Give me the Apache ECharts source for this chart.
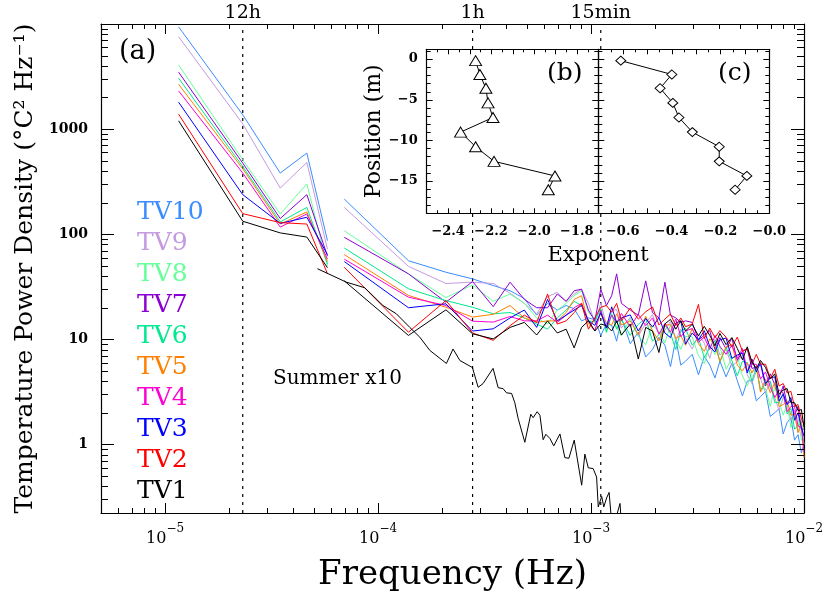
<!DOCTYPE html>
<html>
<head>
<meta charset="utf-8">
<script src="https://cdn.jsdelivr.net/npm/echarts@6/dist/echarts.min.js"></script>
<style>html,body{margin:0;padding:0;background:#fff}#chart{width:829px;height:599px}</style>
</head>
<body>
<div id="chart"></div>
<script>
const SERIF = 'DejaVu Serif, serif';

// daily harmonics (first piece of every spectrum)
const dailyHz = [1.157e-5, 2.315e-5, 3.472e-5, 4.630e-5, 5.787e-5];
// 4-hour window bins (second piece)
const binHz = [0.694e-4, 1.389e-4, 2.083e-4, 2.778e-4, 3.472e-4, 4.167e-4, 4.861e-4, 5.556e-4, 6.250e-4, 6.944e-4, 7.639e-4, 8.333e-4, 9.028e-4, 9.722e-4,
  1.042e-3, 1.111e-3, 1.181e-3, 1.250e-3, 1.319e-3, 1.389e-3,
  1.528e-3, 1.667e-3, 1.806e-3, 1.944e-3, 2.083e-3, 2.222e-3, 2.361e-3, 2.500e-3, 2.639e-3, 2.778e-3,
  2.986e-3, 3.194e-3, 3.403e-3, 3.611e-3, 3.819e-3, 4.028e-3,
  4.306e-3, 4.583e-3, 4.861e-3, 5.139e-3, 5.417e-3, 5.694e-3, 5.972e-3, 6.250e-3,
  6.597e-3, 6.944e-3, 7.292e-3, 7.639e-3, 7.986e-3, 8.333e-3,
  8.681e-3, 9.028e-3, 9.375e-3, 9.722e-3, 1.000e-2];

const tv10Day = [9400, 1367, 382, 592, 87];
const tv9Day = [7570, 1122, 275, 482, 72];
const tv8Day = [4080, 511, 156, 301, 50];
const tv7Day = [3480, 475, 141, 238, 62];
const tv6Day = [3050, 441, 131, 180, 52];
const tv5Day = [2670, 420, 125, 163, 55];
const tv4Day = [2310, 382, 117, 156, 58];
const tv3Day = [1805, 238, 127, 145, 64];
const tv2Day = [1387, 157, 129, 125, 42];
const tv1Day = [1200, 133, 103, 94, 48];

const tv10Bin = [216, 56, 43.5, 37.6, 32.5, 29, 24.5, 17, 22, 19, 21, 19.5, 15, 16,
  15.4, 10.9, 14.1, 13.6, 9.6, 16,
  9.1, 11.7, 6.8, 8.0, 10.5, 8.8, 5.5, 10.1, 5.7, 6.2,
  7.2, 4.6, 6.9, 5.7, 4.3, 6.2,
  4.4, 5.9, 4.05, 2.9, 4.0, 4.1, 2.6, 2.85,
  3.2, 1.85, 2.0, 2.2, 1.26, 1.62,
  1.8, 1.1, 1.24, 0.83, 1.02];
const tv9Bin = [180, 49.5, 34, 35, 34, 27.5, 22, 17.5, 25.5, 28, 23, 27, 30, 22,
  14.4, 22.1, 13.6, 18.7, 19.2, 12.8,
  16.2, 10.7, 14.3, 17.2, 11.3, 12.2, 14.8, 9.9, 12.5, 10.3,
  8.1, 11.1, 9.2, 6.6, 10.0, 7.1,
  8.0, 5.6, 6.1, 7.1, 4.6, 3.8, 5.0, 4.25,
  3.1, 4.0, 2.8, 2.1, 2.8, 2.4,
  1.7, 2.1, 1.3, 1.45, 1.4];
const tv8Bin = [108, 42, 25, 33, 23, 27, 22, 16, 14, 19, 22, 26, 29, 18,
  15.8, 18.4, 11.5, 17.6, 13.0, 10.8,
  15.8, 10.8, 8.9, 13.6, 11.9, 9.2, 13.8, 9.9, 8.0, 10.7,
  10.6, 7.0, 5.9, 8.8, 7.2, 8.6,
  5.2, 6.6, 6.9, 4.5, 3.6, 5.0, 5.2, 3.4,
  3.4, 2.3, 3.55, 2.6, 1.9, 2.4,
  1.45, 1.75, 1.8, 1.1, 1.1];
const tv7Bin = [93.5, 42, 22.6, 35.5, 20.5, 35, 24, 20, 20, 27, 23, 29, 30, 19,
  15, 30, 21, 26, 42, 22,
  19, 17, 36, 18, 16, 35, 17, 16, 14.5, 15,
  14.5, 9.8, 11.0, 12.1, 8.0, 10.4,
  8.1, 10.3, 6.3, 7.7, 8.1, 5.3, 5.4, 5.8,
  3.6, 4.7, 3.7, 2.8, 3.6, 2.4,
  2.6, 1.9, 2.3, 1.4, 1.4];
const tv6Bin = [74, 30.3, 23.4, 20.2, 17.5, 18, 16, 14, 12.5, 16, 19, 23, 21, 15,
  14.7, 19.6, 11.8, 17.2, 12.5, 15.5,
  10.9, 13.9, 15.8, 9.6, 11.1, 13.7, 11.4, 8.0, 12.1, 12.7,
  8.8, 10.3, 6.7, 8.5, 9.7, 6.1,
  8.4, 6.3, 4.5, 6.2, 6.0, 4.0, 5.5, 3.2,
  3.8, 4.0, 2.5, 2.5, 3.1, 1.95,
  2.2, 1.4, 1.5, 1.65, 1.0];
const tv5Bin = [64, 26.2, 20.2, 16.3, 17.3, 21, 16, 14.5, 15, 15, 18, 24, 26, 14,
  12.2, 17.8, 14.4, 13.7, 17.5, 13.7,
  15.0, 11.0, 16.6, 12.0, 9.7, 13.7, 13.8, 10.2, 10.9, 8.8,
  12.7, 9.1, 7.7, 10.1, 8.7, 6.2,
  8.5, 8.9, 5.7, 5.0, 6.0, 4.8, 5.6, 3.15,
  4.2, 3.1, 3.9, 2.3, 2.4, 2.6,
  1.9, 1.95, 1.3, 1.65, 0.75];
const tv4Bin = [58, 25.2, 21, 14.9, 14.6, 16.5, 15, 15, 17, 14.5, 17, 20, 22, 15,
  12, 18.7, 12.8, 17, 14.4, 17.6,
  13.2, 17.3, 13.5, 16.0, 11.2, 14.2, 11.7, 15.6, 10.6, 12,
  12.7, 9.4, 10.5, 8.0, 10.9, 8.6,
  7.2, 8.8, 6.6, 8.2, 5.0, 5.8, 5.8, 4.2,
  4.9, 3.5, 2.8, 3.3, 3.1, 2.05,
  2.3, 2.3, 1.5, 1.45, 0.85];
const tv3Bin = [55, 20, 21.8, 12, 12.6, 16, 19, 13, 24, 15, 17, 19, 21, 15,
  13.6, 17.9, 12.8, 20.4, 14.4, 16,
  17.1, 12, 15.8, 13.1, 16.1, 11.5, 10.4, 14.3, 15, 9,
  11.5, 9.9, 12.1, 8.5, 7.6, 9.9,
  10.3, 6.6, 7.1, 7.4, 4.8, 6.5, 4.9, 6,
  3.8, 4.3, 4.4, 2.6, 3.0, 2.4,
  2.8, 1.7, 2.0, 1.45, 1.2];
const tv2Bin = [48.5, 11.7, 23.4, 11.5, 9.8, 13.5, 17, 14.5, 27, 14, 15, 18, 22, 12.5,
  16, 20.2, 21, 18.1, 22, 15,
  19.9, 15.6, 18.3, 20.3, 13.7, 15.6, 17.4, 13.5, 16, 13.2,
  14, 21.5, 10.2, 12.8, 10.4, 12.1,
  10.5, 8.5, 10.5, 7.7, 8.2, 5.8, 7.2, 5.8,
  5.8, 4.25, 5.2, 3.6, 3.8, 3.1,
  3.2, 2.3, 2.4, 1.75, 1.55];
const tv1Bin = [36, 10.9, 19.1, 11.3, 10.1, 13, 14.5, 11, 15, 11.5, 12.5, 8.3, 13, 15,
  12, 14, 13.5, 12, 15, 11,
  14, 6.5, 13, 12, 7.5, 14, 15.5, 12.5, 15, 12,
  13.9, 10.8, 13.3, 10.9, 8.7, 11.4,
  8.9, 10.4, 8.2, 6.4, 8.5, 6.1, 5.3, 6.3,
  5.4, 4.2, 4.7, 3.0, 3.3, 3.4,
  2.5, 2.5, 2.1, 2.15, 1.45];

const tvNames = ['TV10', 'TV9', 'TV8', 'TV7', 'TV6', 'TV5', 'TV4', 'TV3', 'TV2', 'TV1'];
const tvColors = ['#3a8cff', '#c49ae0', '#66ff99', '#8c00d4', '#00e890', '#ff8000', '#ff00d2', '#0000ff', '#ff0000', '#000000'];
const tvDay = [tv10Day, tv9Day, tv8Day, tv7Day, tv6Day, tv5Day, tv4Day, tv3Day, tv2Day, tv1Day];
const tvBin = [tv10Bin, tv9Bin, tv8Bin, tv7Bin, tv6Bin, tv5Bin, tv4Bin, tv3Bin, tv2Bin, tv1Bin];

const summerHz = [5.19e-5, 7.10e-5, 8.65e-5, 1.054e-4, 1.219e-4, 1.409e-4, 1.570e-4, 1.750e-4, 2.094e-4, 2.249e-4,
  2.421e-4, 2.773e-4, 2.951e-4, 3.112e-4, 3.467e-4, 3.664e-4, 3.864e-4, 4.009e-4, 4.236e-4, 4.385e-4,
  4.550e-4, 4.887e-4, 5.212e-4, 5.346e-4, 5.585e-4, 5.754e-4, 5.957e-4, 6.138e-4, 6.412e-4, 6.683e-4,
  7.145e-4, 7.534e-4, 7.870e-4, 8.337e-4, 9.036e-4, 9.354e-4, 9.705e-4, 1.023e-3, 1.062e-3, 1.081e-3,
  1.122e-3, 1.148e-3, 1.183e-3, 1.216e-3, 1.259e-3, 1.368e-3, 1.396e-3];
const summerP = [47, 35, 31, 21, 17.5, 13, 10.5, 7.85, 5.9, 8.1,
  6.3, 5.4, 3.5, 3.8, 5.3, 3.47, 3.4, 3.1, 3.06, 2.5,
  1.76, 1.05, 1.94, 1.8, 2.05, 1.9, 1.11, 1.25, 1.14, 0.97,
  1.26, 0.75, 0.74, 1.1, 0.41, 0.81, 0.6, 0.59, 0.49, 0.255,
  0.32, 0.255, 0.31, 0.35, 0.15, 0.275, 0.15];

const periodHz = [2.315e-5, 2.778e-4, 1.111e-3];
const periodNames = ['12h', '1h', '15min'];

// insets
const sensorDepth = [-0.2, -1.9, -3.6, -5.4, -7.2, -9.0, -10.8, -12.6, -14.4, -16.1];
const exponentB = [-2.272, -2.252, -2.224, -2.214, -2.191, -2.342, -2.272, -2.186, -1.902, -1.933];
const exponentC = [-0.608, -0.399, -0.447, -0.395, -0.370, -0.315, -0.205, -0.205, -0.092, -0.140];

const X_MIN = 5e-6, X_MAX = 1e-2, Y_MIN = 0.223, Y_MAX = 1e4;
const B_X = [-2.5, -1.7], C_X = [-0.7, 0], IN_Y = [-19, 1.2];

// tick marks: [value, length in px]
const mainXTicks = [[1e-5, 10], [1e-4, 10], [1e-3, 10]];
const mainYTicks = [[1, 13], [10, 13], [100, 13], [1000, 13]];
[-6, -5, -4, -3].forEach(e => { for (let m = 2; m <= 9; m++) { const v = m * Math.pow(10, e); if (v > X_MIN && v < X_MAX) mainXTicks.push([v, 5]); } });
[-1, 0, 1, 2, 3].forEach(e => { for (let m = 2; m <= 9; m++) { const v = m * Math.pow(10, e); if (v > Y_MIN && v < Y_MAX) mainYTicks.push([v, 7]); } });
const bXTicks = [], cXTicks = [], inYTicks = [];
for (let i = -49; i <= -35; i++) bXTicks.push([i * 5 / 100, i % 2 === 0 ? 5 : 3]);
for (let i = -13; i <= -1; i++) cXTicks.push([i * 5 / 100, i % 2 === 0 ? 5 : 3]);
for (let i = -18; i <= 1; i++) inYTicks.push([i, i % 5 === 0 ? 6 : 4]);

const black = { color: '#000', width: 1.2 };

function frameAxis(o) {
  return Object.assign({
    splitLine: { show: false },
    axisLine: { show: true, onZero: false, lineStyle: black },
    axisTick: { show: false },
    minorTick: { show: false },
    axisLabel: { show: false }
  }, o);
}
function evenTenth(sign) {
  return v => {
    const t = Math.round(v * 10);
    if (t % 2 !== 0) return '';
    return (sign || v < 0 ? '\u2212' : '') + Math.abs(t / 10).toFixed(1);
  };
}
const insetLabel = f => ({ show: true, margin: 12, color: '#000', fontFamily: SERIF, fontSize: 13, fontWeight: 'bold', formatter: f });

const series = tvNames.map((name, i) => ({
  name: name, type: 'line', xAxisIndex: 0, yAxisIndex: 0, symbol: 'none', silent: true, z: 2,
  lineStyle: { color: tvColors[i], width: 1 }, itemStyle: { color: tvColors[i] },
  data: dailyHz.map((f, j) => [f, tvDay[i][j]])
    .concat([[6.3e-5, '-']])
    .concat(binHz.map((f, j) => [f, tvBin[i][j]]))
}));

series.push({
  name: 'Summer', type: 'line', xAxisIndex: 0, yAxisIndex: 0, symbol: 'none', silent: true, z: 2,
  lineStyle: { color: '#000', width: 1 },
  data: summerHz.map((f, j) => [f, summerP[j]])
});

// dotted period lines (12h, 1h, 15min) across the whole frame
periodHz.forEach(f => {
  series.push({
    type: 'line', xAxisIndex: 0, yAxisIndex: 0, symbol: 'none', silent: true, z: 1,
    lineStyle: { type: [3, 5], color: '#000', width: 1.2 },
    data: [[f, Y_MIN], [f, Y_MAX]]
  });
});

series.push({
  type: 'line', xAxisIndex: 2, yAxisIndex: 2, z: 7, silent: true,
  symbol: 'triangle', symbolSize: [12, 10],
  lineStyle: { color: '#000', width: 1 },
  itemStyle: { color: '#fff', borderColor: '#000', borderWidth: 1 },
  data: exponentB.map((x, i) => [x, sensorDepth[i]])
});
series.push({
  type: 'line', xAxisIndex: 4, yAxisIndex: 4, z: 7, silent: true,
  symbol: 'diamond', symbolSize: [10, 9],
  lineStyle: { color: '#000', width: 1 },
  itemStyle: { color: '#fff', borderColor: '#000', borderWidth: 1 },
  data: exponentC.map((x, i) => [x, sensorDepth[i]])
});

const gridLayout = [
  { left: 101, top: 24, width: 703, height: 489 },
  { left: 426.7, top: 49.3, width: 171.6, height: 164 },
  { left: 598.3, top: 49.3, width: 171, height: 164 }
];
const extents = [
  { x: [X_MIN, X_MAX], y: [Y_MIN, Y_MAX], log: true },
  { x: B_X, y: IN_Y, log: false },
  { x: C_X, y: IN_Y, log: false }
];

let chart = null;

// pixel position: through the chart's own axes once it exists, else from the grid layout
function toPx(g, x, y) {
  let p = null;
  if (chart) {
    try { p = chart.convertToPixel({ gridIndex: g }, [x, y]); } catch (e) { p = null; }
  }
  if (p && isFinite(p[0]) && isFinite(p[1])) return p;
  const L = gridLayout[g], E = extents[g];
  const f = E.log ? Math.log10 : (v => v);
  const fx = (f(x) - f(E.x[0])) / (f(E.x[1]) - f(E.x[0]));
  const fy = (f(y) - f(E.y[0])) / (f(E.y[1]) - f(E.y[0]));
  return [L.left + L.width * fx, L.top + L.height * (1 - fy)];
}
// inward tick marks on all four sides of a frame
function tickLines(g, xTicks, yTicks, z) {
  const E = extents[g], out = [];
  xTicks.forEach(t => {
    const b = toPx(g, t[0], E.y[0]), tp = toPx(g, t[0], E.y[1]);
    const x = Math.round(b[0]) + 0.5;
    out.push({ type: 'line', z: z, silent: true, shape: { x1: x, y1: b[1], x2: x, y2: b[1] - t[1] }, style: { stroke: '#000', lineWidth: 1 } });
    out.push({ type: 'line', z: z, silent: true, shape: { x1: x, y1: tp[1], x2: x, y2: tp[1] + t[1] }, style: { stroke: '#000', lineWidth: 1 } });
  });
  yTicks.forEach(t => {
    const l = toPx(g, E.x[0], t[0]), r = toPx(g, E.x[1], t[0]);
    const y = Math.round(l[1]) + 0.5;
    out.push({ type: 'line', z: z, silent: true, shape: { x1: l[0], y1: y, x2: l[0] + t[1], y2: y }, style: { stroke: '#000', lineWidth: 1 } });
    out.push({ type: 'line', z: z, silent: true, shape: { x1: r[0], y1: y, x2: r[0] - t[1], y2: y }, style: { stroke: '#000', lineWidth: 1 } });
  });
  return out;
}
function allTicks() {
  const t = tickLines(0, mainXTicks, mainYTicks, 10)
    .concat(tickLines(1, bXTicks, inYTicks, 30))
    .concat(tickLines(2, cXTicks, inYTicks, 30));
  t.forEach((el, i) => { el.id = 'tick' + i; });
  return t;
}

const texts = [
  { id: 'ta', type: 'text', x: 119, y: 52, z: 20, style: { text: '(a)', fontFamily: SERIF, fontSize: 27, fill: '#000', verticalAlign: 'middle' } },
  { id: 'tb', type: 'text', x: 547, y: 73, z: 20, style: { text: '(b)', fontFamily: SERIF, fontSize: 25, fill: '#000', verticalAlign: 'middle' } },
  { id: 'tc', type: 'text', x: 718, y: 73, z: 20, style: { text: '(c)', fontFamily: SERIF, fontSize: 25, fill: '#000', verticalAlign: 'middle' } },
  { id: 'te', type: 'text', x: 598, y: 256, z: 20, style: { text: 'Exponent', fontFamily: SERIF, fontSize: 21, fill: '#000', align: 'center', verticalAlign: 'middle' } },
  { id: 'ts', type: 'text', x: 273, y: 379, z: 20, style: { text: 'Summer x10', fontFamily: SERIF, fontSize: 20, fill: '#000', verticalAlign: 'middle' } }
];

let firstTicks = [];
try { firstTicks = allTicks(); } catch (e) { firstTicks = []; }

const option = {
  animation: false,
  backgroundColor: '#fff',
  grid: [
    Object.assign({}, gridLayout[0]),
    Object.assign({ show: true, backgroundColor: '#fff', borderWidth: 0, z: 5 }, gridLayout[1]),
    Object.assign({ show: true, backgroundColor: '#fff', borderWidth: 0, z: 5 }, gridLayout[2])
  ],
  legend: {
    orient: 'vertical', left: 126, top: 192, icon: 'none', itemWidth: 1, itemHeight: 10, itemGap: 0,
    selectedMode: false,
    textStyle: { fontFamily: SERIF, fontSize: 25, lineHeight: 31 },
    data: tvNames.map((n, i) => ({ name: n, textStyle: { color: tvColors[i] } }))
  },
  xAxis: [
    frameAxis({
      type: 'log', logBase: 10, min: X_MIN, max: X_MAX, gridIndex: 0, position: 'bottom',
      name: 'Frequency (Hz)', nameLocation: 'middle', nameGap: 45,
      nameTextStyle: { fontFamily: SERIF, fontSize: 34, color: '#000' },
      axisLabel: {
        show: true, margin: 10, color: '#000',
        formatter: v => {
          const e = Math.log10(v), r = Math.round(e);
          if (Math.abs(e - r) > 1e-6) return '';
          return '{b|10}{s|\u2212' + (-r) + '}';
        },
        rich: {
          b: { fontFamily: SERIF, fontSize: 16, color: '#000', lineHeight: 24, verticalAlign: 'bottom' },
          s: { fontFamily: SERIF, fontSize: 12, color: '#000', verticalAlign: 'top' }
        }
      }
    }),
    frameAxis({
      type: 'log', logBase: 10, min: X_MIN, max: X_MAX, gridIndex: 0, position: 'top',
      axisLabel: {
        show: true, margin: 1, color: '#000', fontFamily: SERIF, fontSize: 19,
        customValues: periodHz,
        formatter: v => {
          let best = 0;
          periodHz.forEach((f, i) => { if (Math.abs(Math.log(f / v)) < Math.abs(Math.log(periodHz[best] / v))) best = i; });
          return periodNames[best];
        }
      }
    }),
    frameAxis({ type: 'value', gridIndex: 1, position: 'bottom', min: B_X[0], max: B_X[1], interval: 0.1, z: 6, axisLabel: insetLabel(evenTenth(false)) }),
    frameAxis({ type: 'value', gridIndex: 1, position: 'top', min: B_X[0], max: B_X[1], interval: 0.1, z: 6 }),
    frameAxis({ type: 'value', gridIndex: 2, position: 'bottom', min: C_X[0], max: C_X[1], interval: 0.1, z: 6, axisLabel: insetLabel(evenTenth(true)) }),
    frameAxis({ type: 'value', gridIndex: 2, position: 'top', min: C_X[0], max: C_X[1], interval: 0.1, z: 6 })
  ],
  yAxis: [
    frameAxis({
      type: 'log', logBase: 10, min: Y_MIN, max: Y_MAX, gridIndex: 0, position: 'left',
      name: 'Temperature Power Density (\u00b0C\u00b2 Hz\u207b\u00b9)', nameLocation: 'middle', nameGap: 62,
      nameTextStyle: { fontFamily: SERIF, fontSize: 25, color: '#000' },
      axisLabel: {
        show: true, margin: 13, color: '#000', fontFamily: SERIF, fontSize: 14, fontWeight: 'bold',
        formatter: v => {
          const e = Math.log10(v), r = Math.round(e);
          return (Math.abs(e - r) < 1e-6 && r >= 0 && r <= 3) ? String(Math.round(v)) : '';
        }
      }
    }),
    frameAxis({ type: 'log', logBase: 10, min: Y_MIN, max: Y_MAX, gridIndex: 0, position: 'right' }),
    frameAxis({
      type: 'value', gridIndex: 1, position: 'left', min: IN_Y[0], max: IN_Y[1], interval: 1, z: 6,
      name: 'Position (m)', nameLocation: 'middle', nameGap: 38,
      nameTextStyle: { fontFamily: SERIF, fontSize: 22, color: '#000' },
      axisLabel: {
        show: true, margin: 9, color: '#000', fontFamily: SERIF, fontSize: 13, fontWeight: 'bold',
        formatter: v => {
          const r = Math.round(v);
          if (Math.abs(v - r) > 1e-6 || r % 5 !== 0) return '';
          return r < 0 ? '\u2212' + Math.abs(r) : String(r);
        }
      }
    }),
    frameAxis({ type: 'value', gridIndex: 1, position: 'right', min: IN_Y[0], max: IN_Y[1], interval: 1, z: 6 }),
    frameAxis({ type: 'value', gridIndex: 2, position: 'left', min: IN_Y[0], max: IN_Y[1], interval: 1, z: 6 }),
    frameAxis({ type: 'value', gridIndex: 2, position: 'right', min: IN_Y[0], max: IN_Y[1], interval: 1, z: 6 })
  ],
  graphic: texts.concat(firstTicks),
  series: series
};

chart = echarts.init(document.getElementById('chart'));
try { chart.setOption(option); } catch (e) { console.warn(e); }

// re-place the ticks through the rendered axes
try {
  const ticks = allTicks();
  chart.setOption({ graphic: texts.concat(ticks) });
} catch (e) { console.warn(e); }
</script>
</body>
</html>
